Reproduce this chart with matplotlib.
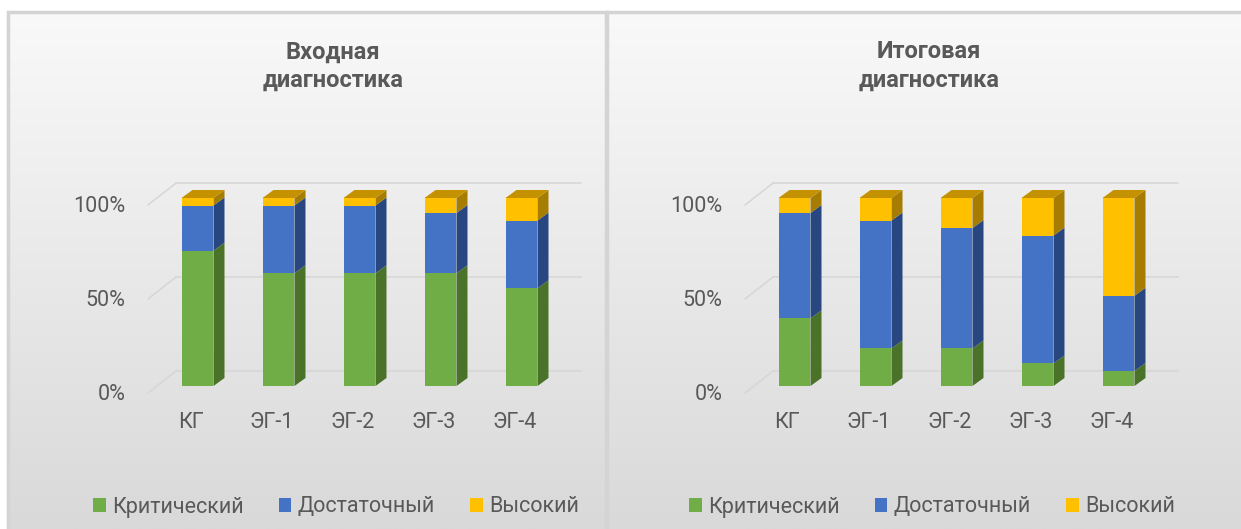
import numpy as np
import matplotlib
matplotlib.use("Agg")
import matplotlib.pyplot as plt
from matplotlib.patches import Polygon, Rectangle, Patch

plt.rcParams['font.family'] = ['Roboto', 'DejaVu Sans']

# ---------------- data ----------------
categories = ["КГ", "ЭГ-1", "ЭГ-2", "ЭГ-3", "ЭГ-4"]
series_names = ["Критический", "Достаточный", "Высокий"]
titles = ["Входная\nдиагностика", "Итоговая\nдиагностика"]

entry_critical = [72, 60, 60, 60, 52]
entry_sufficient = [24, 36, 36, 32, 36]
entry_high = [4, 4, 4, 8, 12]

final_critical = [36, 20, 20, 12, 8]
final_sufficient = [56, 68, 64, 68, 40]
final_high = [8, 12, 16, 20, 52]

yticks = [0, 50, 100]
ytick_labels = ["0%", "50%", "100%"]

# ---------------- style ----------------
front_colors = ["#70AD47", "#4472C4", "#FFC000"]
side_colors = ["#4A7229", "#284780", "#A67D00"]
top_colors = ["#5E8F3A", "#365FA6", "#C49200"]
text_color = "#595959"
grid_color = "#D6D6D6"

W, H = 1241, 529
fig = plt.figure(figsize=(W / 100, H / 100), dpi=100)
fig.patch.set_facecolor("white")

PX_CAT = 81.0      # pixels per category step
PX_PCT = 1.88      # pixels per percent
Y0_PX = 386.0      # pixel row of 0 %
bar_w = 0.395
ddx, ddy = 11 / PX_CAT, 8 / PX_PCT            # bar depth
fdx, fdy = -7 / PX_CAT, -6 / PX_PCT            # front plane offset
bdx, bdy = 21 / PX_CAT, 15 / PX_PCT            # back wall offset

panels = [
    dict(x0=8, x1=606, c0=197.5, data=(entry_critical, entry_sufficient, entry_high),
         title=titles[0], legend_cx=336),
    dict(x0=607, x1=1245, c0=794.5, data=(final_critical, final_sufficient, final_high),
         title=titles[1], legend_cx=932),
]

top_px = 12
for p in panels:
    ax = fig.add_axes([p["x0"] / W, 0, (p["x1"] - p["x0"]) / W, (H - top_px) / H])
    xlim = ((p["x0"] - p["c0"]) / PX_CAT, (p["x1"] - p["c0"]) / PX_CAT)
    ylim = ((Y0_PX - H) / PX_PCT, (Y0_PX - top_px) / PX_PCT)
    ax.set_xlim(*xlim)
    ax.set_ylim(*ylim)
    ax.axis("off")

    # gradient background (light at top, darker at bottom)
    grad = np.linspace(0, 1, 256).reshape(-1, 1)
    cmap = matplotlib.colors.LinearSegmentedColormap.from_list("g", ["#F9F9F9", "#D9D9D9"])
    ax.imshow(grad, extent=(xlim[0], xlim[1], ylim[0], ylim[1]), cmap=cmap,
              aspect="auto", zorder=0, origin="upper")
    ax.add_patch(Rectangle((0, -0.05), 1, 1.05, transform=ax.transAxes, fill=False,
                           edgecolor="#D4D4D4", linewidth=2.5, zorder=1, clip_on=False))

    # gridlines (wall + back)
    n = len(categories)
    wall_front_x = -0.61
    right_end = 4.74
    for v in yticks:
        fx, fy = wall_front_x, v + fdy - 0.5
        bx, by = wall_front_x + (bdx - fdx), v + bdy
        ax.plot([fx, bx], [fy, by], color=grid_color, lw=1.1, zorder=2)
        ax.plot([bx, right_end], [by, by], color=grid_color, lw=1.1, zorder=2)

    # y tick labels at front plane
    for v, lab in zip(yticks, ytick_labels):
        ax.text(wall_front_x - 0.28, v + fdy - 1.5, lab, ha="right", va="center",
                fontsize=15.5, color=text_color, zorder=5)

    # stacked 3D bars
    xs = np.arange(n)
    bottoms = np.zeros(n)
    series = p["data"]
    for s_idx, vals in enumerate(series):
        vals = np.array(vals, dtype=float)
        ax.bar(xs, vals, bottom=bottoms, width=bar_w, color=front_colors[s_idx],
               edgecolor="none", zorder=4)
        for i in range(n):
            b, t = bottoms[i], bottoms[i] + vals[i]
            if vals[i] <= 0:
                continue
            xr = xs[i] + bar_w / 2
            ax.add_patch(Polygon([(xr, b), (xr + ddx, b + ddy), (xr + ddx, t + ddy), (xr, t)],
                                 closed=True, facecolor=side_colors[s_idx],
                                 edgecolor="none", zorder=3.9))
        bottoms = bottoms + vals
    # top faces: colour of top series
    for i in range(n):
        t = bottoms[i]
        xl, xr = xs[i] - bar_w / 2, xs[i] + bar_w / 2
        ax.add_patch(Polygon([(xl, t), (xl + ddx, t + ddy), (xr + ddx, t + ddy), (xr, t)],
                             closed=True, facecolor=top_colors[2],
                             edgecolor="none", zorder=3.9))

    # category labels
    for i, c in enumerate(categories):
        ax.text(xs[i] + fdx, (Y0_PX - 423) / PX_PCT, c, ha="center", va="center",
                fontsize=15.5, color=text_color, zorder=5)

    # title
    cx_title = (p["legend_cx"] - 3 - p["c0"]) / PX_CAT
    ax.text(cx_title, (Y0_PX - 66) / PX_PCT, p["title"], ha="center", va="center",
            fontsize=17, fontweight="bold", color=text_color, linespacing=1.3, zorder=5)

    # legend
    handles = [Patch(facecolor=front_colors[k], edgecolor="none") for k in range(3)]
    lx = (p["legend_cx"] - p["x0"]) / (p["x1"] - p["x0"])
    ly = (H - 507) / (H - top_px)
    leg = ax.legend(handles, series_names, loc="center", bbox_to_anchor=(lx, ly),
                    ncol=3, frameon=False, fontsize=15.5, handlelength=0.6,
                    handleheight=0.6, handletextpad=0.3, columnspacing=1.6,
                    borderpad=0, labelcolor=text_color)
    leg.set_zorder(6)

fig.savefig("out.png", dpi=100, facecolor="white")
